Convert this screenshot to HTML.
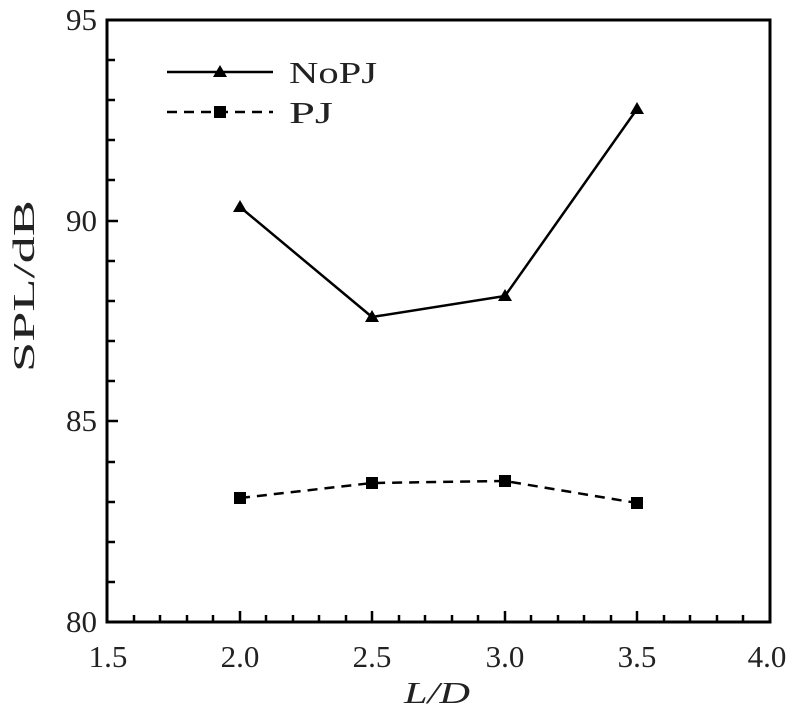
<!DOCTYPE html>
<html><head><style>body{margin:0;background:#fff}svg text{font-family:"Liberation Serif",serif;fill:#222}</style></head>
<body>
<svg width="793" height="712" xmlns="http://www.w3.org/2000/svg">
<g stroke="#000" stroke-width="2.5">
<rect x="107" y="20" width="663" height="602" fill="none" stroke-width="3"/>
<path d="M134 622v-7M160 622v-7M187 622v-7M213 622v-7M240 622v-11M266 622v-7M293 622v-7M319 622v-7M346 622v-7M372 622v-11M399 622v-7M425 622v-7M452 622v-7M478 622v-7M505 622v-11M531 622v-7M558 622v-7M584 622v-7M611 622v-7M637 622v-11M664 622v-7M690 622v-7M717 622v-7M743 622v-7"/>
<path d="M107 582h8M107 542h8M107 502h8M107 462h8M107 421h11M107 381h8M107 341h8M107 301h8M107 261h8M107 221h11M107 180h8M107 140h8M107 100h8M107 60h8"/>
</g>
<polyline points="240,207 372,317 505,296 637,109" fill="none" stroke="#000" stroke-width="2.5"/>
<polyline points="240,498 372,483 505,481 637,503" fill="none" stroke="#000" stroke-width="2.5" stroke-dasharray="10,7"/>
<g fill="#000">
<path d="M240,200 l7,12 h-14z M372,310 l7,12 h-14z M505,289 l7,12 h-14z M637,102 l7,12 h-14z"/>
<rect x="234" y="492" width="12" height="12"/><rect x="366" y="477" width="12" height="12"/><rect x="499" y="475" width="12" height="12"/><rect x="631" y="497" width="12" height="12"/>
</g>
<line x1="167" y1="72" x2="273" y2="72" stroke="#000" stroke-width="2.5"/>
<path d="M220,65 l7,12 h-14z"/>
<line x1="167" y1="112" x2="273" y2="112" stroke="#000" stroke-width="2.5" stroke-dasharray="10,7"/>
<rect x="214" y="106" width="12" height="12"/>
<text x="289" y="83" font-size="31" textLength="88" lengthAdjust="spacingAndGlyphs">NoPJ</text>
<text x="289" y="123" font-size="31" textLength="44" lengthAdjust="spacingAndGlyphs">PJ</text>
<g font-size="31" text-anchor="end">
<text x="97" y="632">80</text><text x="97" y="431">85</text><text x="97" y="231">90</text><text x="97" y="30">95</text>
</g>
<g font-size="31" text-anchor="middle">
<text x="108" y="667">1.5</text><text x="240" y="667">2.0</text><text x="372" y="667">2.5</text><text x="505" y="667">3.0</text><text x="637" y="667">3.5</text><text x="767" y="667">4.0</text>
<text x="437" y="703" font-style="italic" textLength="66" lengthAdjust="spacingAndGlyphs">L/D</text>
<text transform="translate(34,286) rotate(-90)" textLength="172" lengthAdjust="spacingAndGlyphs">SPL/dB</text>
</g>
</svg>
</body></html>
